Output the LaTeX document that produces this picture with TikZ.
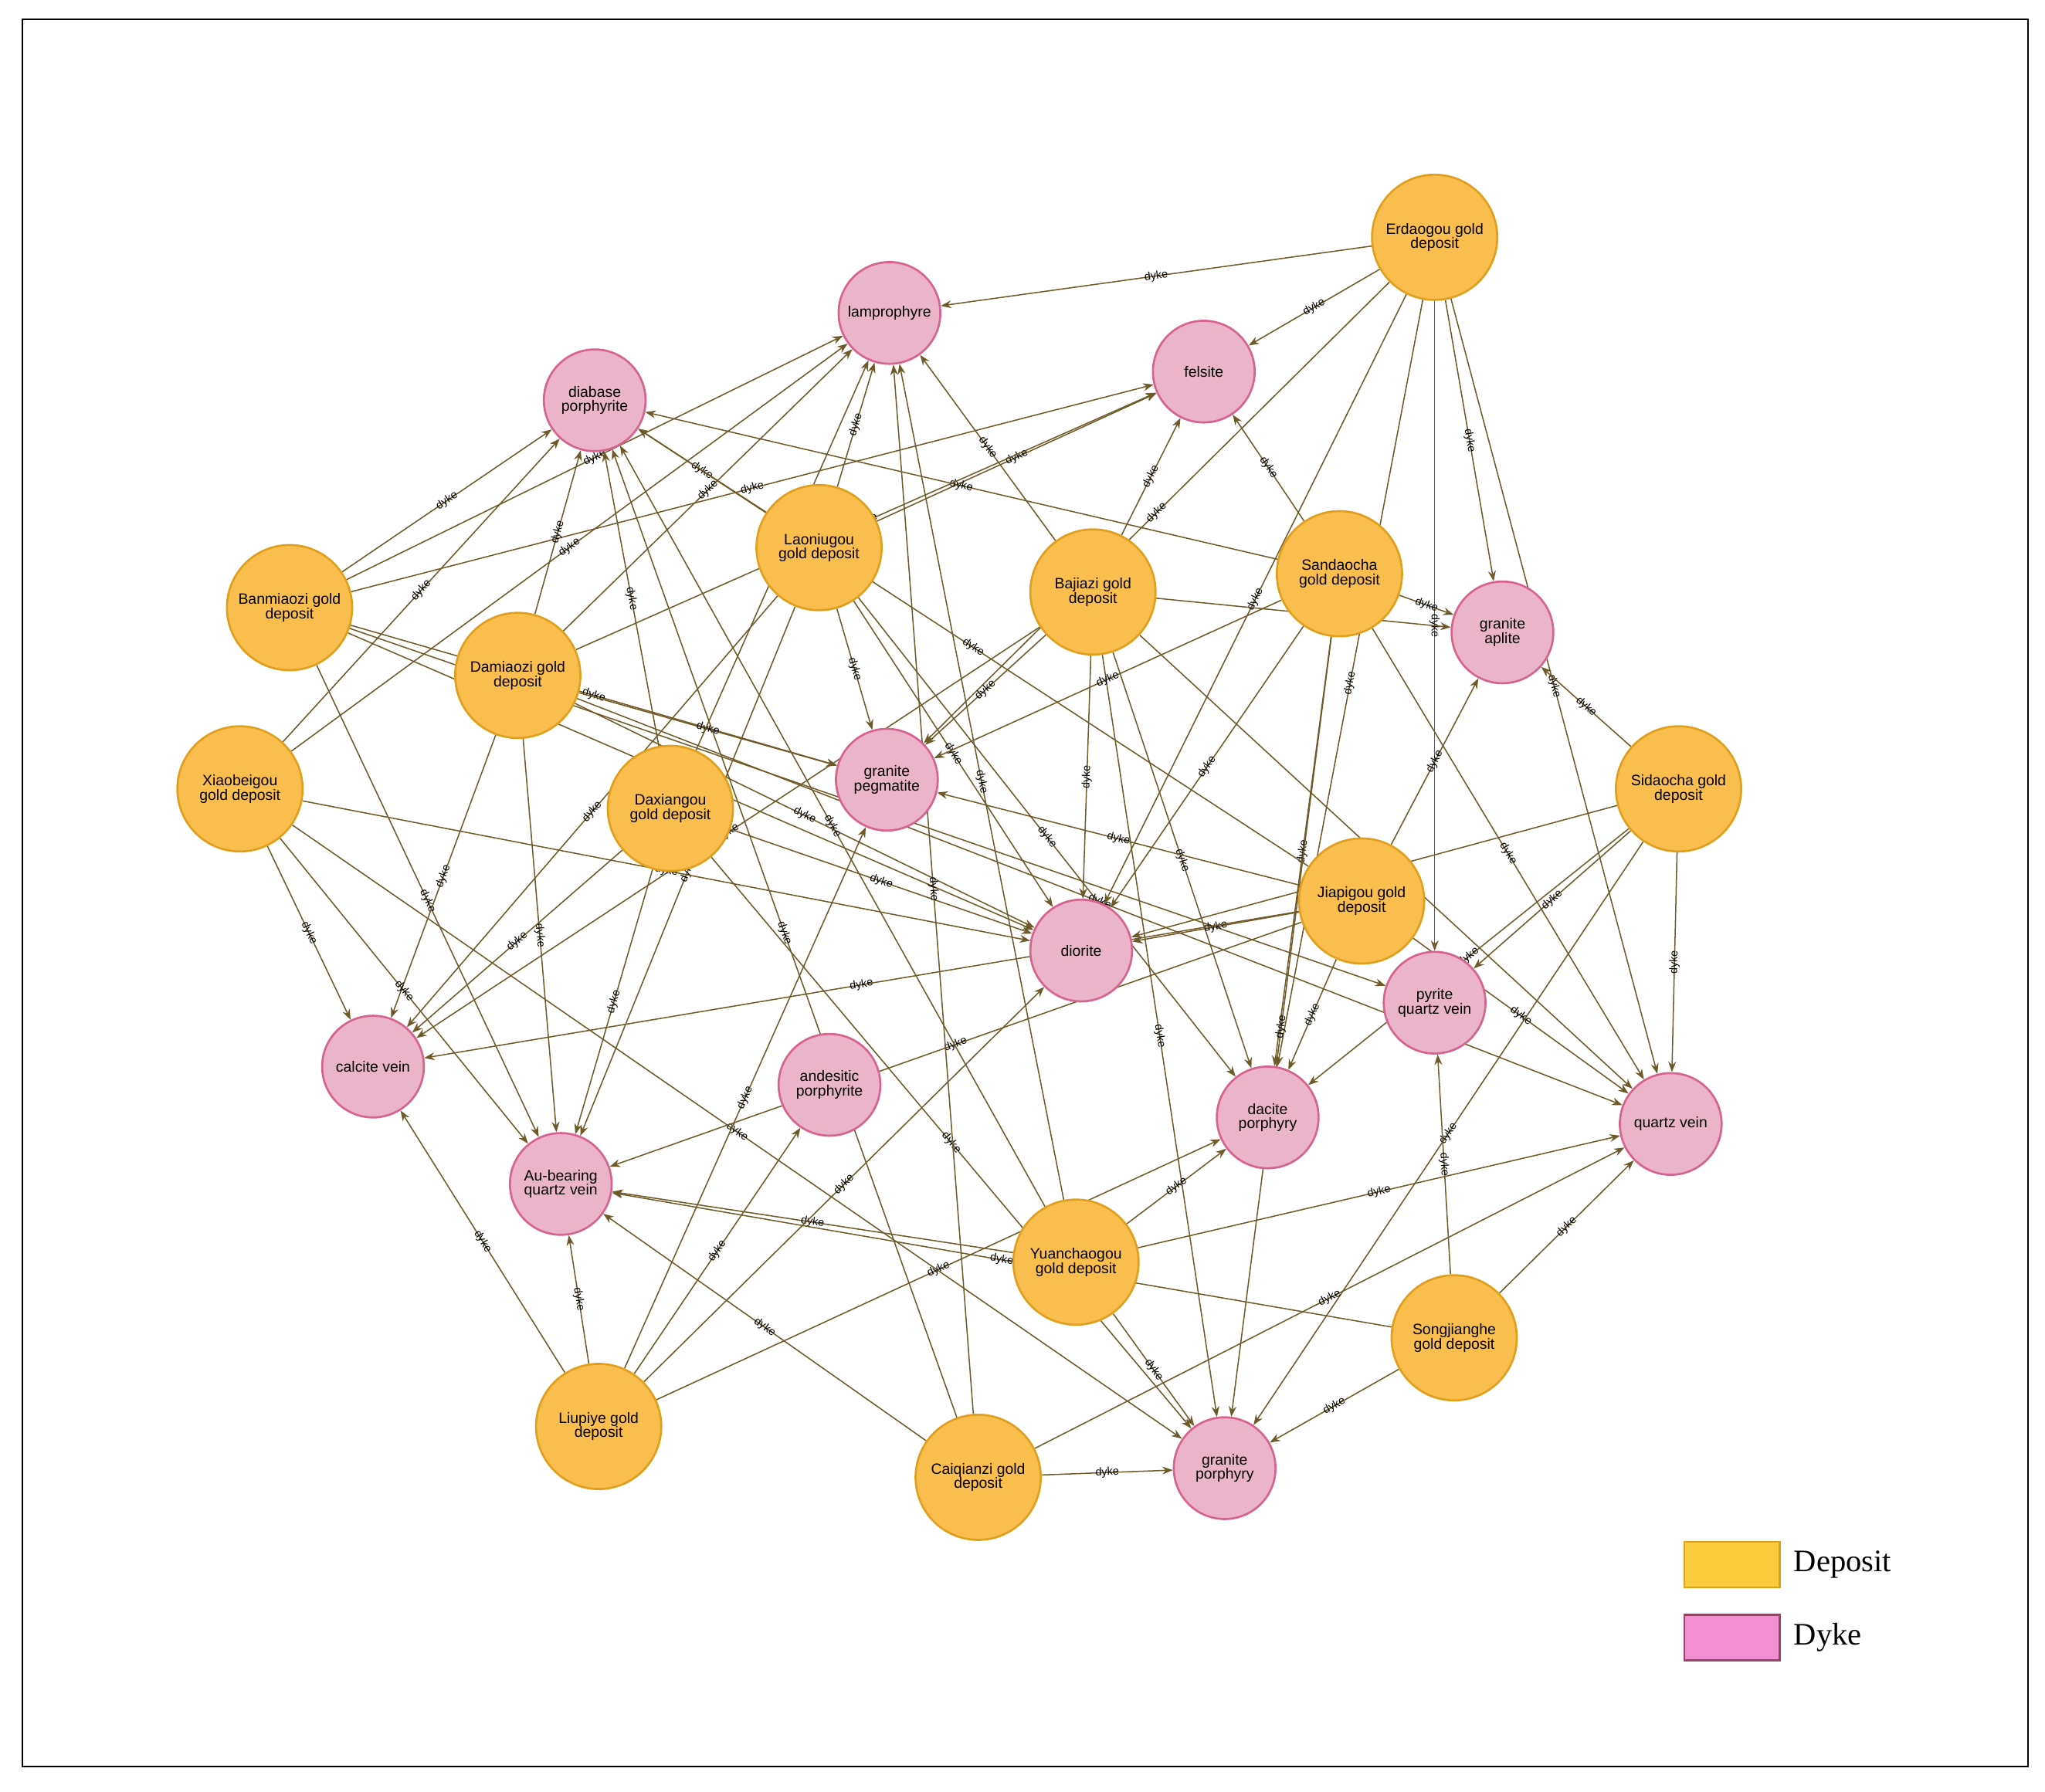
\documentclass[tikz,border=0pt]{standalone}
\usepackage{fontspec}
\setmainfont{Liberation Sans}
\newfontfamily\serifleg{Liberation Serif}
\usetikzlibrary{arrows.meta,backgrounds}
\definecolor{depfill}{RGB}{250,190,78}
\definecolor{depline}{RGB}{224,160,30}
\definecolor{dykfill}{RGB}{236,180,200}
\definecolor{dykline}{RGB}{214,100,145}
\definecolor{edgecol}{RGB}{110,90,40}
\tikzset{
  deposit/.style={circle, draw=depline, fill=depfill, line width=1.6pt, minimum size=96pt, inner sep=0pt, align=center, font=\fontsize{11.5}{11}\selectfont},
  dyke/.style={circle, draw=dykline, fill=dykfill, line width=1.6pt, minimum size=78pt, inner sep=0pt, align=center, font=\fontsize{11.5}{11}\selectfont},
  edge/.style={draw=edgecol, line width=0.9pt, -{Stealth[length=8pt,width=6pt]}},
  lbl/.style={midway, sloped, font=\fontsize{8.5}{8.5}\selectfont, inner sep=1pt}
}
\begin{document}
\begin{tikzpicture}[x=1pt,y=-1pt]
\useasboundingbox (0,0) rectangle (1568,1374);
\draw[line width=1.2pt] (17,15) rectangle (1555,1355);

% dykes
\node[dyke] (lamp) at (682,240) {lamprophyre};
\node[dyke] (fels) at (923,285) {felsite};
\node[dyke] (diab) at (456,307) {diabase\\porphyrite};
\node[dyke] (gapl) at (1152,485) {granite\\aplite};
\node[dyke] (gpeg) at (680,598) {granite\\pegmatite};
\node[dyke] (dior) at (829,729) {diorite};
\node[dyke] (pqv) at (1100,769) {pyrite\\quartz vein};
\node[dyke] (calc) at (286,818) {calcite vein};
\node[dyke] (ande) at (636,832) {andesitic\\porphyrite};
\node[dyke] (daci) at (972,857) {dacite\\porphyry};
\node[dyke] (qv) at (1281,862) {quartz vein};
\node[dyke] (auqv) at (430,908) {Au-bearing\\quartz vein};
\node[dyke] (gpor) at (939,1126) {granite\\porphyry};

% deposits
\node[deposit] (erda) at (1100,182) {Erdaogou gold\\deposit};
\node[deposit] (laon) at (628,420) {Laoniugou\\gold deposit};
\node[deposit] (baji) at (838,454) {Bajiazi gold\\deposit};
\node[deposit] (sand) at (1027,440) {Sandaocha\\gold deposit};
\node[deposit] (banm) at (222,466) {Banmiaozi gold\\deposit};
\node[deposit] (dami) at (397,518) {Damiaozi gold\\deposit};
\node[deposit] (xiao) at (184,605) {Xiaobeigou\\gold deposit};
\node[deposit] (daxi) at (514,620) {Daxiangou\\gold deposit};
\node[deposit] (sida) at (1287,605) {Sidaocha gold\\deposit};
\node[deposit] (jiap) at (1044,691) {Jiapigou gold\\deposit};
\node[deposit] (yuan) at (825,968) {Yuanchaogou\\gold deposit};
\node[deposit] (song) at (1115,1026) {Songjianghe\\gold deposit};
\node[deposit] (liup) at (459,1094) {Liupiye gold\\deposit};
\node[deposit] (caiq) at (750,1133) {Caiqianzi gold\\deposit};

% relations, behind the circles
\begin{pgfonlayer}{background}
\foreach \s/\t in {erda/lamp, erda/fels, erda/gapl, erda/pqv, erda/daci, erda/dior, erda/gpeg, erda/qv,
  laon/lamp, laon/diab, laon/fels, laon/gpeg, laon/auqv, laon/calc, laon/dior, laon/daci,
  baji/lamp, baji/fels, baji/gapl, baji/gpeg, baji/dior, baji/daci, baji/gpor, baji/qv, baji/calc,
  sand/fels, sand/diab, sand/gapl, sand/gpeg, sand/daci, sand/qv, sand/gpor, sand/dior,
  banm/diab, banm/lamp, banm/fels, banm/dior, banm/gpeg, banm/auqv, banm/pqv,
  dami/diab, dami/lamp, dami/fels, dami/dior, dami/gpeg, dami/auqv, dami/calc, dami/qv,
  xiao/diab, xiao/lamp, xiao/calc, xiao/auqv, xiao/dior, xiao/gpor,
  daxi/diab, daxi/lamp, daxi/dior, daxi/auqv, daxi/calc, daxi/gpor,
  sida/gapl, sida/qv, sida/pqv, sida/dior, sida/gpor, sida/daci,
  jiap/dior, jiap/gpeg, jiap/daci, jiap/gapl, jiap/qv, jiap/calc, jiap/diab, jiap/auqv,
  yuan/auqv, yuan/daci, yuan/qv, yuan/gpor, yuan/lamp, yuan/diab,
  song/gpor, song/qv, song/pqv, song/auqv,
  liup/calc, liup/auqv, liup/ande, liup/dior, liup/gpeg, liup/daci,
  caiq/gpor, caiq/auqv, caiq/qv, caiq/lamp, caiq/diab}
  \path[edge] (\s) -- node[lbl] {dyke} (\t);
\end{pgfonlayer}

% legend
\node[draw=depline, fill=depfill!80!yellow, line width=1.5pt, minimum width=73pt, minimum height=35pt, inner sep=0pt] (legdep) at (1328,1200) {};
\node[anchor=west, font=\serifleg\fontsize{24}{24}\selectfont] (legdeptxt) at (1372,1200) {Deposit};
\node[draw=dykline!70!black, fill=dykfill!80!magenta, line width=1.5pt, minimum width=73pt, minimum height=35pt, inner sep=0pt] (legdyk) at (1328,1256) {};
\node[anchor=west, font=\serifleg\fontsize{24}{24}\selectfont] (legdyktxt) at (1372,1256) {Dyke};
\end{tikzpicture}
\end{document}
